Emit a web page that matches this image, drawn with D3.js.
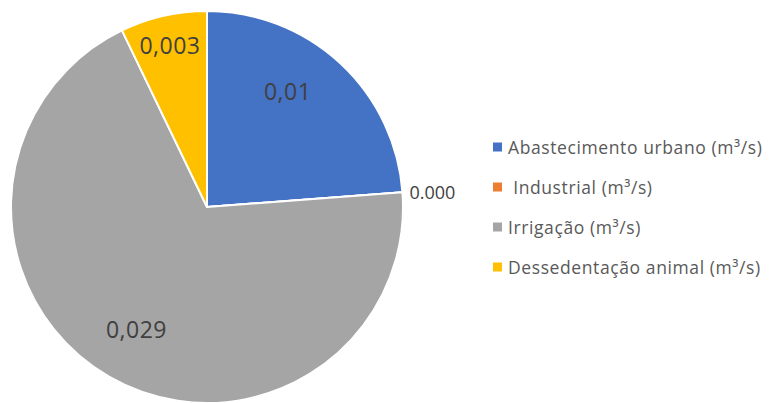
<!DOCTYPE html>
<html>
<head>
<meta charset="utf-8">
<script src="https://cdn.jsdelivr.net/npm/d3@7"></script>
<style>
  body { margin: 0; background: #fff; }
  svg { display: block; font-family: "Open Sans", "Liberation Sans", sans-serif; }
</style>
</head>
<body>
<svg id="chart" width="771" height="403"></svg>
<script>
const categories = [
  "Abastecimento urbano (m³/s)",
  " Industrial (m³/s)",
  "Irrigação (m³/s)",
  "Dessedentação animal (m³/s)",
];
const values = [0.01, 0.0, 0.029, 0.003];
const valueLabels = ["0,01", "0.000", "0,029", "0,003"];
const colors = ["#4472C4", "#ED7D31", "#A5A5A5", "#FFC000"];

const width = 771;
const height = 403;
const cx = 207;
const cy = 207;
const radius = 196;

const svg = d3.select("#chart");
const data = categories.map((name, i) => ({
  name,
  value: values[i],
  label: valueLabels[i],
  color: colors[i],
}));

const pie = d3.pie().sort(null).value((d) => d.value);
const arc = d3.arc().innerRadius(0).outerRadius(radius);
const arcs = pie(data);

const g = svg.append("g").attr("transform", `translate(${cx},${cy})`);

g.selectAll(".slice")
  .data(arcs)
  .join("path")
  .attr("class", "slice")
  .attr("d", arc)
  .attr("fill", (d) => d.data.color)
  .attr("stroke", "#fff")
  .attr("stroke-width", 2)
  .attr("stroke-linejoin", "round");

// labels: big slices inside, tiny slices near the rim, empty slice outside
function labelPos(d) {
  const share = (d.endAngle - d.startAngle) / (2 * Math.PI);
  if (share === 0) {
    const a = d.startAngle;
    return [Math.sin(a) * (radius + 30), -Math.cos(a) * (radius + 2)];
  }
  const r = share < 0.1 ? radius * 0.85 : radius * 0.72;
  let a = (d.startAngle + d.endAngle) / 2;
  if (share > 0.2 && share < 0.3) a -= 0.14;
  return [Math.sin(a) * r, -Math.cos(a) * r];
}

g.selectAll(".value-label")
  .data(arcs)
  .join("text")
  .attr("class", "value-label")
  .attr("x", (d) => labelPos(d)[0])
  .attr("y", (d) => labelPos(d)[1])
  .attr("text-anchor", "middle")
  .attr("dominant-baseline", "central")
  .attr("font-size", (d) => (d.data.value === 0 ? 18 : 23))
  .attr("font-weight", (d) => (d.data.value === 0 ? 400 : 500))
  .attr("letter-spacing", (d) => (d.data.value === 0 ? 0 : 0.5))
  .attr("fill", "#404040")
  .text((d) => d.data.label);

// legend
const legendY = d3.scalePoint().domain(categories).range([147, 267]);

const legend = svg.append("g").attr("class", "legend");
const rows = legend
  .selectAll("g")
  .data(data)
  .join("g")
  .attr("transform", (d) => `translate(493,${legendY(d.name)})`);

rows.append("rect")
  .attr("x", 0)
  .attr("y", -4.5)
  .attr("width", 9)
  .attr("height", 9)
  .attr("fill", (d) => d.color);

rows.append("text")
  .attr("x", 15)
  .attr("y", 0)
  .attr("dominant-baseline", "central")
  .attr("font-size", 17.5)
  .attr("letter-spacing", 0.6)
  .attr("fill", "#595959")
  .attr("xml:space", "preserve")
  .style("white-space", "pre")
  .text((d) => d.name);
</script>
</body>
</html>
